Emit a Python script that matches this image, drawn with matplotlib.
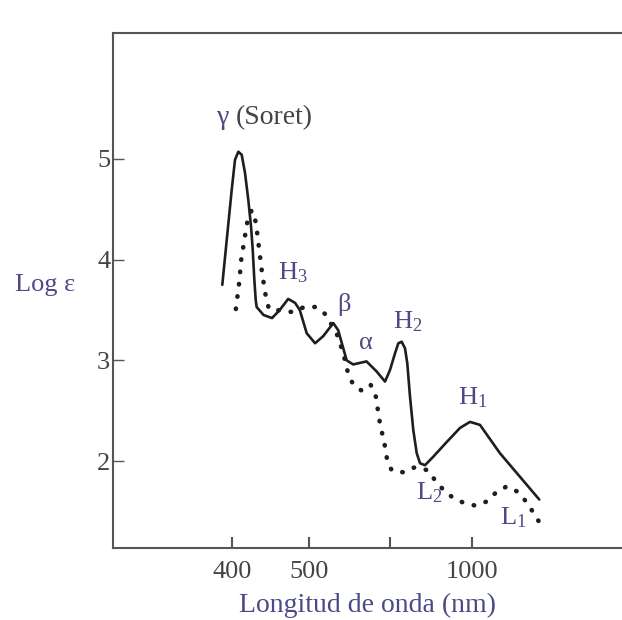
import numpy as np
import matplotlib
matplotlib.use("Agg")
import matplotlib.pyplot as plt

# Absorption spectrum sketch: Log epsilon vs wavelength (nm)
solid_nm = [387.4, 393.1, 399.6, 403.9, 408.2, 412.6, 416.9, 421.2, 424.7,
            426.9, 429.0, 430.8, 432, 441, 452, 462, 473, 482, 488, 497,
            515, 535, 560, 572, 593, 609, 642, 667, 687.7, 700, 718.3, 730.4,
            742.8, 754.9, 763.3, 773.2, 785.2, 797.7, 809.8, 828.0, 858.4,
            907.4, 956.1, 992.7, 1029.3, 1102, 1246]
solid_log = [3.75, 4.19, 4.69, 4.99, 5.07, 5.04, 4.86, 4.59, 4.33, 4.10,
             3.80, 3.60, 3.53, 3.45, 3.42, 3.50, 3.61, 3.57, 3.50, 3.27,
             3.17, 3.24, 3.37, 3.30, 3.00, 2.96, 2.99, 2.89, 2.79, 2.905,
             3.07, 3.17, 3.185, 3.12, 2.97, 2.64, 2.31, 2.08, 1.98, 1.96,
             2.045, 2.19, 2.33, 2.39, 2.36, 2.08, 1.62]

dotted_nm = [405, 409, 412, 417, 420, 425.5, 431, 435, 439, 444, 448, 478,
             494, 517, 540, 568, 584, 596, 609, 630, 652, 665, 675, 688, 693,
             706, 748, 791, 839, 865, 894, 929, 967, 1011, 1054, 1088, 1127,
             1165, 1198, 1222, 1245]
dotted_log = [3.51, 3.75, 4.00, 4.24, 4.38, 4.49, 4.37, 4.12, 3.87, 3.63,
              3.51, 3.48, 3.53, 3.53, 3.46, 3.27, 3.08, 2.88, 2.76, 2.70,
              2.76, 2.64, 2.38, 2.14, 2.01, 1.91, 1.89, 1.94, 1.91, 1.81,
              1.72, 1.64, 1.59, 1.56, 1.60, 1.69, 1.75, 1.70, 1.60, 1.50,
              1.40]

band_labels = [r'H$_\mathrm{3}$', 'β', 'α', r'H$_\mathrm{2}$',
               r'H$_\mathrm{1}$', r'L$_\mathrm{2}$', r'L$_\mathrm{1}$']
band_nm = [478.6, 586.4, 639.5, 765.9, 1003.7, 842.7, 1151.8]
band_log = [3.872, 3.550, 3.173, 3.386, 2.632, 1.685, 1.442]

xtick_nm = [400, 500, 700, 1000]
xtick_labels = ['400', '500', '', '1000']
ytick_vals = [2, 3, 4, 5]

# the wavelength axis of the sketch is not linear: piecewise mapping
NM = [200, 400, 500, 700, 1000, 1600]
POS = [78, 232, 309, 390, 472, 636]


def fwd(x):
    return np.interp(x, NM, POS)


def inv(p):
    return np.interp(p, POS, NM)


purple = '#4b4a86'
grey = '#444444'
serif = ['Liberation Serif', 'DejaVu Serif']
plt.rcParams['font.family'] = serif
plt.rcParams['mathtext.fontset'] = 'custom'
plt.rcParams['mathtext.rm'] = 'Liberation Serif'
plt.rcParams['mathtext.it'] = 'Liberation Serif:italic'

fig = plt.figure(figsize=(6.22, 6.20), dpi=100)
ax = fig.add_axes([113 / 622, 1 - 548 / 620, 1 - 113 / 622, (548 - 33) / 620])
ax.set_xscale('function', functions=(fwd, inv))

ax.plot(solid_nm, solid_log, color='#1e1e1e', lw=1.9,
        solid_capstyle='round', solid_joinstyle='round')
ax.plot(dotted_nm, dotted_log, color='#1e1e1e', lw=3.3,
        linestyle=(0, (0.1, 2.6)), dash_capstyle='round')

ax.set_xlim(inv(113), inv(622))
ax.set_ylim(3.5 - (548 - 310) / 100.8, 3.5 + (310 - 33) / 100.8)

ax.set_xticks(xtick_nm)
ax.set_xticklabels(xtick_labels)
ax.set_yticks(ytick_vals)
ax.minorticks_off()
ax.tick_params(axis='x', direction='in', length=8, width=1.5, color='#555555',
               labelsize=19, labelcolor=grey, pad=9)
ax.tick_params(axis='y', direction='in', length=8, width=1.0, color='#555555',
               labelsize=19, labelcolor=grey, pad=2)
for s in ['left', 'bottom', 'top']:
    ax.spines[s].set_color('#555555')
    ax.spines[s].set_linewidth(1.5)
ax.spines['right'].set_visible(False)

for lab, x, y in zip(band_labels, band_nm, band_log):
    ax.text(x, y, lab, color=purple, fontsize=19, ha='center', va='center')

ax.text(380.5, 5.405, 'γ', color=purple, fontsize=20,
        ha='left', va='center')
ax.text(405.2, 5.405, '(Soret)', color=grey, fontsize=20,
        ha='left', va='center')

fig.text(15 / 622, 1 - 285 / 620, 'Log ε', color=purple, fontsize=19,
         ha='left', va='center')
fig.text(367.5 / 622, 1 - 605 / 620, 'Longitud de onda (nm)', color=purple,
         fontsize=20, ha='center', va='center')

fig.savefig('out.png', dpi=100, facecolor='white')
